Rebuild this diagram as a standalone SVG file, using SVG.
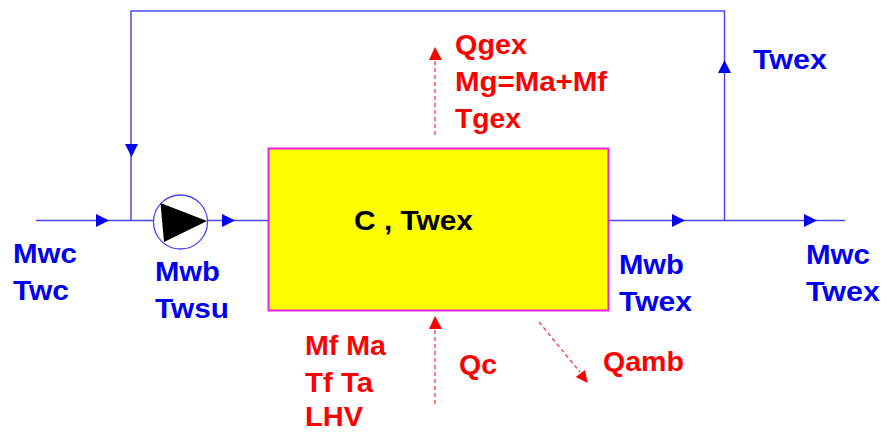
<svg xmlns="http://www.w3.org/2000/svg" width="882" height="432" viewBox="0 0 882 432">
<style>
text{font-family:"Liberation Sans",Arial,sans-serif;font-weight:bold;font-size:28px}
.b{fill:#0000f0}.r{fill:#ff0000}.k{fill:#000}
.w{fill:none;stroke:#4a4af5;stroke-width:1.5}
.d{fill:none;stroke:#f03a3a;stroke-width:1.3;stroke-dasharray:4 3}
.ab{fill:#0000f0}.ar{fill:#ff0000}
</style>
<rect width="882" height="432" fill="#fff"/>
<g id="connectors">
<path class="w" d="M36 220.500H268M131 220.500V11H724.500V220.500M608 220.500H845"/>
<polygon class="ab" points="96,214 109,220.500 96,227"/>
<polygon class="ab" points="222,214 235,220.500 222,227"/>
<polygon class="ab" points="672,214 685,220.500 672,227"/>
<polygon class="ab" points="804,214 817,220.500 804,227"/>
<polygon class="ab" points="125,144 138,144 131.500,157"/>
<polygon class="ab" points="718,73 731,73 724.500,60"/>
<path class="d" d="M435 135V60"/>
<polygon class="ar" points="429,60 442,60 435,47"/>
<path class="d" d="M435 404V328"/>
<polygon class="ar" points="429,329 442,329 435,316"/>
<path class="d" d="M539 322L580 372"/>
<polygon class="ar" points="575.700,377 585,370 587.700,383"/>
</g>
<g id="pump">
<circle cx="180.500" cy="222" r="27" fill="#fff" stroke="#4a4af5" stroke-width="1.3"/>
<polygon class="k" points="160.500,203 207,221 164,242"/>
</g>
<g id="boiler">
<rect x="268.500" y="148.500" width="340" height="162" fill="#ffff00" stroke="#f020e0" stroke-width="2"/>
<text x="354" y="230" class="k" textLength="119" lengthAdjust="spacingAndGlyphs">C , Twex</text>
</g>
<g id="labels">
<text class="b" x="13" y="263" textLength="64" lengthAdjust="spacingAndGlyphs">Mwc</text>
<text class="b" x="13" y="300" textLength="56" lengthAdjust="spacingAndGlyphs">Twc</text>
<text class="b" x="155" y="281" textLength="65" lengthAdjust="spacingAndGlyphs">Mwb</text>
<text class="b" x="155" y="318" textLength="74" lengthAdjust="spacingAndGlyphs">Twsu</text>
<text class="b" x="619" y="274" textLength="65" lengthAdjust="spacingAndGlyphs">Mwb</text>
<text class="b" x="619" y="311" textLength="73" lengthAdjust="spacingAndGlyphs">Twex</text>
<text class="b" x="806" y="264" textLength="64" lengthAdjust="spacingAndGlyphs">Mwc</text>
<text class="b" x="806" y="301" textLength="74" lengthAdjust="spacingAndGlyphs">Twex</text>
<text class="b" x="753" y="69" textLength="74" lengthAdjust="spacingAndGlyphs">Twex</text>
<text class="r" x="455" y="54" textLength="72" lengthAdjust="spacingAndGlyphs">Qgex</text>
<text class="r" x="455" y="91" textLength="152" lengthAdjust="spacingAndGlyphs">Mg=Ma+Mf</text>
<text class="r" x="455" y="128" textLength="66" lengthAdjust="spacingAndGlyphs">Tgex</text>
<text class="r" x="305" y="355" textLength="81" lengthAdjust="spacingAndGlyphs">Mf Ma</text>
<text class="r" x="305" y="392" textLength="68" lengthAdjust="spacingAndGlyphs">Tf Ta</text>
<text class="r" x="305" y="426" textLength="58" lengthAdjust="spacingAndGlyphs">LHV</text>
<text class="r" x="459" y="374" textLength="38" lengthAdjust="spacingAndGlyphs">Qc</text>
<text class="r" x="603" y="371" textLength="81" lengthAdjust="spacingAndGlyphs">Qamb</text>
</g>
</svg>
